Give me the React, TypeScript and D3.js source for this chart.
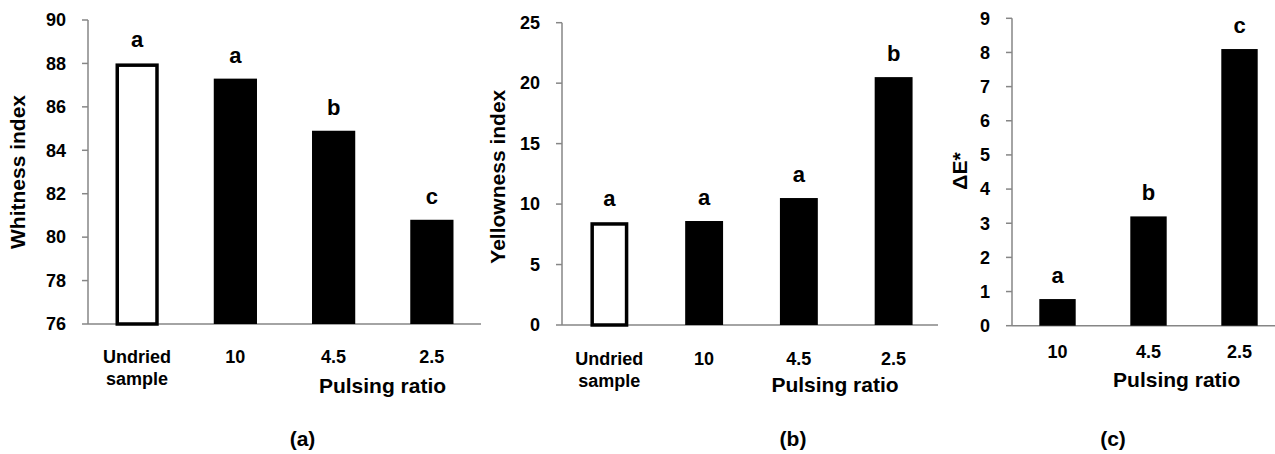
import React from "react";
import * as d3 from "d3";

// ---- data ----
const categoriesAB = ["Undried\nsample", "10", "4.5", "2.5"];
const categoriesC = ["10", "4.5", "2.5"];
const whitenessValues = [88.0, 87.3, 84.9, 80.8];
const whitenessLetters = ["a", "a", "b", "c"];
const yellownessValues = [8.5, 8.6, 10.5, 20.5];
const yellownessLetters = ["a", "a", "a", "b"];
const deltaEValues = [0.78, 3.2, 8.1];
const deltaELetters = ["a", "b", "c"];
const whitenessTicks = [76, 78, 80, 82, 84, 86, 88, 90];
const yellownessTicks = [0, 5, 10, 15, 20, 25];
const deltaETicks = [0, 1, 2, 3, 4, 5, 6, 7, 8, 9];
const hollowCategory = "Undried\nsample";

const FONT = "'Liberation Sans', Arial, Helvetica, sans-serif";
const AXIS_COLOR = "#868686";

type PanelProps = {
  categories: string[];
  values: number[];
  letters: string[];
  ticks: number[];
  yTitle: string;
  panelLabel: string;
  x0: number;
  x1: number;
  axisEnd: number;
  yTop: number;
  yBottom: number;
  barRatio: number;
  catDy: number;
  xTitleX: number;
  xTitleY: number;
  yTitleX: number;
  yTitleY: number;
  panelLabelX: number;
};

function Panel(p: PanelProps) {
  const x = d3.scaleBand<string>().domain(p.categories).range([p.x0, p.x1]).padding(0);
  const y = d3
    .scaleLinear()
    .domain([p.ticks[0], p.ticks[p.ticks.length - 1]])
    .range([p.yBottom, p.yTop]);
  const bw = x.bandwidth() * p.barRatio;
  const sw = 3.5;
  return (
    <g fontFamily={FONT} fontWeight="bold" fill="#000">
      {/* axes */}
      <line x1={p.x0} x2={p.x0} y1={y.range()[1]} y2={y.range()[0]} stroke={AXIS_COLOR} strokeWidth={1.5} />
      <line x1={p.x0} x2={p.axisEnd} y1={p.yBottom} y2={p.yBottom} stroke={AXIS_COLOR} strokeWidth={1.5} />
      {p.ticks.map((t) => (
        <g key={t}>
          <line x1={p.x0 - 6} x2={p.x0} y1={y(t)} y2={y(t)} stroke={AXIS_COLOR} strokeWidth={1.5} />
          <text x={p.x0 - 22} y={y(t)} dy="0.35em" textAnchor="end" fontSize={18}>
            {t}
          </text>
        </g>
      ))}
      {/* bars */}
      {p.categories.map((c, i) => {
        const cx = (x(c) as number) + x.bandwidth() / 2;
        const top = y(p.values[i]);
        const hollow = c === hollowCategory;
        return (
          <g key={c}>
            {hollow ? (
              <rect
                x={cx - bw / 2 + sw / 2}
                y={top + sw / 2}
                width={bw - sw}
                height={p.yBottom - top - sw / 2}
                fill="#fff"
                stroke="#000"
                strokeWidth={sw}
              />
            ) : (
              <rect x={cx - bw / 2} y={top} width={bw} height={p.yBottom - top} fill="#000" />
            )}
            <text x={cx} y={top - 16} textAnchor="middle" fontSize={22}>
              {p.letters[i]}
            </text>
            <text x={cx} y={p.yBottom + p.catDy} textAnchor="middle" fontSize={18}>
              {c.split("\n").map((line, k) => (
                <tspan key={k} x={cx} dy={k === 0 ? 0 : 22}>
                  {line}
                </tspan>
              ))}
            </text>
          </g>
        );
      })}
      <text x={p.xTitleX} y={p.xTitleY} textAnchor="middle" fontSize={21}>
        Pulsing ratio
      </text>
      <text
        transform={`translate(${p.yTitleX},${p.yTitleY}) rotate(-90)`}
        textAnchor="middle"
        fontSize={21}
      >
        {p.yTitle}
      </text>
      <text x={p.panelLabelX} y={445.5} textAnchor="middle" fontSize={21}>
        {p.panelLabel}
      </text>
    </g>
  );
}

export default function App() {
  return (
    <svg
      width={1275}
      height={454}
      style={{ position: "absolute", left: 0, top: 0, background: "#fff" }}
    >
      <rect width={1275} height={454} fill="#fff" />
      <Panel
        categories={categoriesAB}
        values={whitenessValues}
        letters={whitenessLetters}
        ticks={whitenessTicks}
        yTitle="Whitness index"
        panelLabel="(a)"
        x0={88}
        x1={481}
        axisEnd={481}
        yTop={20}
        yBottom={324}
        barRatio={0.44}
        catDy={39}
        xTitleX={382.5}
        xTitleY={393}
        yTitleX={25}
        yTitleY={172}
        panelLabelX={302.5}
      />
      <Panel
        categories={categoriesAB}
        values={yellownessValues}
        letters={yellownessLetters}
        ticks={yellownessTicks}
        yTitle="Yellowness index"
        panelLabel="(b)"
        x0={562}
        x1={941}
        axisEnd={938}
        yTop={22.7}
        yBottom={325}
        barRatio={0.4}
        catDy={40}
        xTitleX={835}
        xTitleY={392}
        yTitleX={505}
        yTitleY={176.7}
        panelLabelX={793}
      />
      <Panel
        categories={categoriesC}
        values={deltaEValues}
        letters={deltaELetters}
        ticks={deltaETicks}
        yTitle="ΔE*"
        panelLabel="(c)"
        x0={1012}
        x1={1285}
        axisEnd={1285}
        yTop={18.3}
        yBottom={325.7}
        barRatio={0.4}
        catDy={32}
        xTitleX={1176.7}
        xTitleY={387}
        yTitleX={967}
        yTitleY={171}
        panelLabelX={1113}
      />
    </svg>
  );
}
